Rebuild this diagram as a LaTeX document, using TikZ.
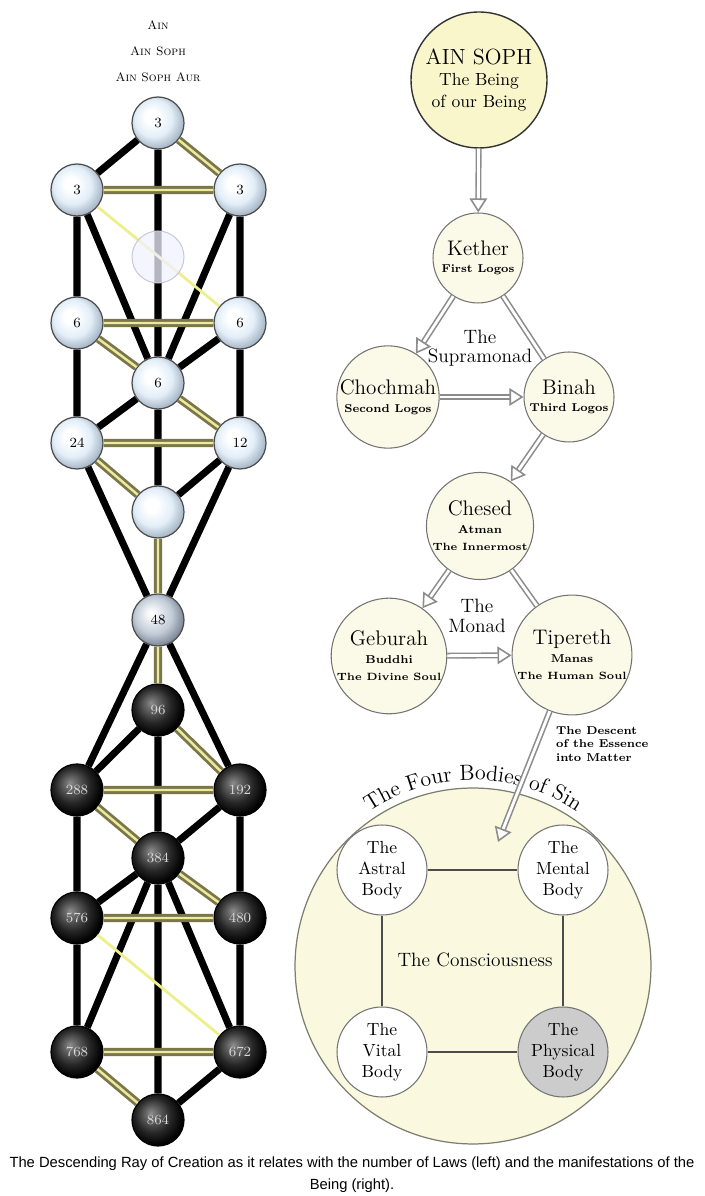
\documentclass[tikz,border=0pt]{standalone}
\usepackage{fontspec}
\newfontfamily\capfont{Liberation Sans}
\usetikzlibrary{arrows.meta,decorations.text}

\definecolor{ballMid}{RGB}{226,238,248}
\definecolor{ballRim}{RGB}{160,176,192}
\definecolor{greyMid}{RGB}{192,202,214}
\definecolor{greyRim}{RGB}{118,128,142}
\definecolor{pathOlive}{RGB}{122,118,74}
\definecolor{pathYellow}{RGB}{236,234,160}
\definecolor{rayYellow}{RGB}{238,238,140}
\definecolor{sophFill}{RGB}{250,246,204}
\definecolor{sephFill}{RGB}{251,250,232}
\definecolor{sinFill}{RGB}{250,249,224}
\definecolor{physFill}{RGB}{204,204,204}

\pgfdeclareradialshading{upperball}{\pgfpoint{-7bp}{7bp}}{color(0bp)=(white); color(6bp)=(white); color(18bp)=(ballMid); color(29bp)=(ballRim); color(50bp)=(ballRim)}
\pgfdeclareradialshading{greyball}{\pgfpoint{-7bp}{7bp}}{color(0bp)=(white); color(5bp)=(white!80!greyMid); color(18bp)=(greyMid); color(29bp)=(greyRim); color(50bp)=(greyRim)}
\pgfdeclareradialshading{darkball}{\pgfpoint{-7bp}{7bp}}{color(0bp)=(black!45); color(5bp)=(black!58); color(17bp)=(black!85); color(27bp)=(black); color(50bp)=(black)}

\begin{document}
\begin{tikzpicture}[x=0.02cm,y=0.02cm,
    upper/.style={circle, minimum size=1.04cm, inner sep=0pt, shading=upperball, draw=black!70, line width=0.7pt, font=\fontsize{8}{9}\selectfont},
    middle/.style={upper, shading=greyball},
    lower/.style={upper, shading=darkball, draw=black, text=white!85!black},
    blackline/.style={line width=4pt, black},
    goldline/.style={draw=pathOlive, double=pathYellow, line width=1.6pt, double distance=1.4pt},
    glowline/.style={draw=rayYellow, line width=1.6pt},
    sephira/.style={circle, minimum size=1.8cm, inner sep=0pt, draw=black!55, line width=0.6pt, fill=sephFill, align=center, font=\fontsize{12}{13}\selectfont},
    body/.style={sephira, fill=white, font=\fontsize{10}{12}\selectfont},
    small/.style={font=\fontsize{6.5}{7.5}\selectfont\bfseries},
    link/.style={draw=black!45, double=white, line width=0.9pt, double distance=1.6pt},
    flow/.style={link, -{Triangle[open, length=8pt, width=10pt, fill=white]}}]
\useasboundingbox (0,0) rectangle (704,1196);

% laws (left)
\node[font=\fontsize{7}{8}\selectfont\scshape] (ain) at (158,1171) {Ain};
\node[font=\fontsize{7}{8}\selectfont\scshape] (ainsoph) at (158,1145) {Ain Soph};
\node[font=\fontsize{7}{8}\selectfont\scshape] (ainsophaur) at (158,1119) {Ain Soph Aur};

\node[upper] (a3t) at (158,1073) {3};
\node[upper] (a3l) at (77,1006) {3};
\node[upper] (a3r) at (240,1006) {3};
\node[upper] (a6l) at (77,873) {6};
\node[upper] (a6r) at (240,873) {6};
\node[upper] (a6c) at (158,813) {6};
\node[upper] (a24) at (77,753) {24};
\node[upper] (a12) at (240,753) {12};
\node[upper] (blank) at (158,684) {};
\node[middle] (a48) at (158,576) {48};
\node[lower] (a96) at (158,486) {96};
\node[lower] (a288) at (77,406) {288};
\node[lower] (a192) at (240,406) {192};
\node[lower] (a384) at (158,338) {384};
\node[lower] (a576) at (77,278) {576};
\node[lower] (a480) at (240,278) {480};
\node[lower] (a768) at (77,144) {768};
\node[lower] (a672) at (240,144) {672};
\node[lower] (a864) at (158,76) {864};

\draw[blackline] (a3t)--(a3l) (a3t)--(a6c) (a3l)--(a6l) (a3l)--(a6c) (a3r)--(a6r) (a3r)--(a6c)
    (a6r)--(a6c) (a6l)--(a24) (a6r)--(a12) (a6c)--(a24) (a6c)--(blank) (a12)--(blank)
    (a24)--(a48) (a12)--(a48) (a48)--(a288) (a48)--(a192);
\draw[blackline] (a96)--(a288) (a96)--(a384) (a192)--(a384) (a288)--(a576) (a192)--(a480)
    (a384)--(a576) (a384)--(a768) (a384)--(a672) (a384)--(a864) (a576)--(a768) (a480)--(a672) (a672)--(a864);
\draw[goldline] (a3t)--(a3r) (a3l)--(a3r) (a6l)--(a6r) (a6l)--(a6c) (a6c)--(a12) (a24)--(a12)
    (a24)--(blank) (blank)--(a48) (a48)--(a96);
\draw[goldline] (a96)--(a192) (a288)--(a192) (a288)--(a384) (a384)--(a480) (a576)--(a480)
    (a768)--(a672) (a768)--(a864);
\draw[glowline] (a3l)--(a6r) (a576)--(a672);
\node[circle, minimum size=1.04cm, fill=blue!5!white, fill opacity=0.75, draw=blue!20!gray!35, line width=0.6pt] (daath) at (158,939) {};

% manifestations of the Being (right)
\node[sephira, minimum size=2.72cm, fill=sophFill, draw=black!80, line width=0.8pt] (soph) at (479,1116)
    {\fontsize{12.5}{14}\selectfont AIN SOPH\\[-1pt] {\fontsize{10}{11}\selectfont The Being}\\ {\fontsize{10}{11}\selectfont of our Being}};
\node[sephira] (kether) at (478,938) {Kether\\[-3pt] {\fontsize{6.5}{7.5}\selectfont\bfseries First Logos}};
\node[sephira] (chochmah) at (388,799) {Chochmah\\[-3pt] {\fontsize{6.5}{7.5}\selectfont\bfseries Second Logos}};
\node[sephira] (binah) at (569,799) {Binah\\[-3pt] {\fontsize{6.5}{7.5}\selectfont\bfseries Third Logos}};
\node[sephira] (chesed) at (480,670) {Chesed\\[-3pt] {\fontsize{6.5}{7.5}\selectfont\bfseries Atman}\\[-3pt] {\fontsize{6}{7}\selectfont\bfseries The Innermost}};
\node[sephira] (geburah) at (389,540) {Geburah\\[-3pt] {\fontsize{6.5}{7.5}\selectfont\bfseries Buddhi}\\[-3pt] {\fontsize{6}{7}\selectfont\bfseries The Divine Soul}};
\node[sephira] (tipereth) at (572,541) {Tipereth\\[-3pt] {\fontsize{6.5}{7.5}\selectfont\bfseries Manas}\\[-3pt] {\fontsize{6}{7}\selectfont\bfseries The Human Soul}};
\node[align=center, font=\fontsize{11}{11}\selectfont] (supramonad) at (480,848) {The\\Supramonad};
\node[align=center, font=\fontsize{11}{11}\selectfont] (monad) at (477,580) {The\\Monad};

\draw[flow] (soph) -- (kether);
\draw[flow] (kether) -- (chochmah);
\draw[flow] (chochmah) -- (binah);
\draw[link] (binah) -- (kether);
\draw[flow] (binah) -- (chesed);
\draw[flow] (chesed) -- (geburah);
\draw[flow] (geburah) -- (tipereth);
\draw[link] (chesed) -- (tipereth);

% the four bodies
\node[circle, minimum size=7.12cm, draw=black!50!sinFill, line width=0.7pt, fill=sinFill] (sin) at (473,230) {};
\path[decorate, decoration={text along path, text align=center,
    text={|\fontsize{12.5}{14}\selectfont|The Four Bodies of Sin}}]
    (sin.center) ++(128:186) arc[start angle=128, end angle=52, radius=186];
\node[body] (astral) at (382,326) {The\\Astral\\Body};
\node[body] (mental) at (563,326) {The\\Mental\\Body};
\node[body] (vital) at (382,144) {The\\Vital\\Body};
\node[body, fill=physFill] (physical) at (563,144) {The\\Physical\\Body};
\draw[black!70, line width=0.8pt] (astral) -- (mental) -- (physical) -- (vital) -- (astral);
\node[font=\fontsize{11}{12}\selectfont] (conscious) at (475,236) {The Consciousness};

\coordinate (descent) at (498,354);
\draw[flow] (tipereth) -- (descent);
\node[small, align=left, anchor=west] (descentlbl) at (550,452) {The Descent\\of the Essence\\into Matter};

% caption
\node[align=center, font=\capfont\fontsize{8.4}{12.5}\selectfont] (caption) at (352,21)
    {The Descending Ray of Creation as it relates with the number of Laws (left) and the manifestations of the\\Being (right).};
\end{tikzpicture}
\end{document}
